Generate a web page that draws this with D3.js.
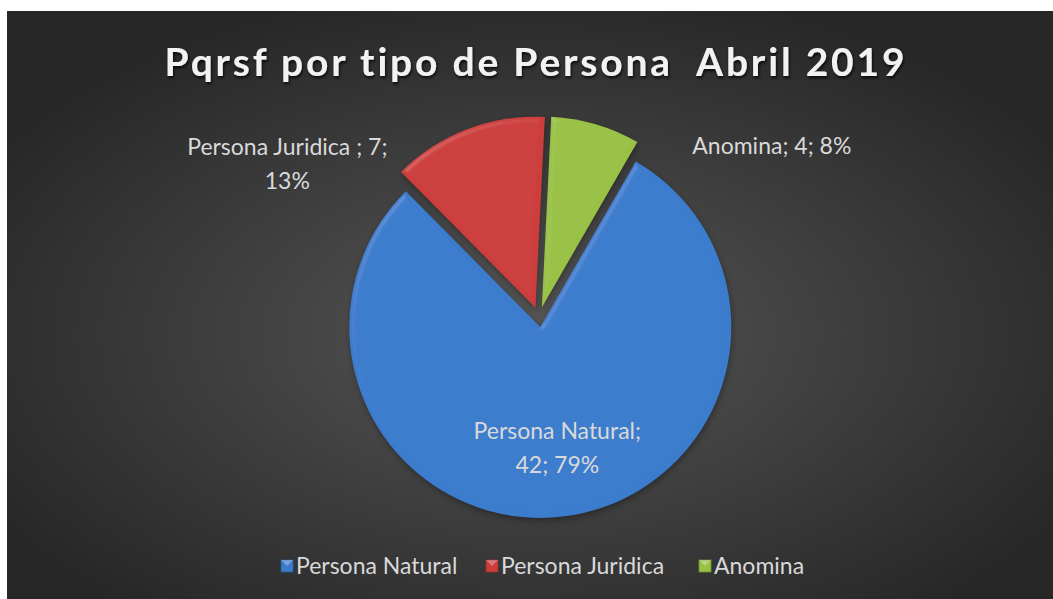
<!DOCTYPE html>
<html>
<head>
<meta charset="utf-8">
<script src="https://cdn.jsdelivr.net/npm/d3@7"></script>
<style>
  html, body { margin: 0; padding: 0; background: #fff; }
  svg { display: block; }
  text { white-space: pre; }
</style>
</head>
<body>
<div id="chart"></div>
<script>
// data
var categories = ["Persona Natural", "Persona Juridica", "Anomina"];
var labelNames = ["Persona Natural", "Persona Juridica ", "Anomina"];
var values = [42, 7, 4];
var percents = ["79%", "13%", "8%"];
var colors = ["#3a7bcc", "#cc3d3b", "#98c145"];
var titleText = "Pqrsf por tipo de Persona  Abril 2019";

var width = 1053, height = 599;

var svg = d3.select("#chart")
  .append("svg")
    .attr("width", width)
    .attr("height", height);

var defs = svg.append("defs");

// background radial gradient
var bg = defs.append("radialGradient")
    .attr("id", "bg")
    .attr("cx", "50%").attr("cy", "55%").attr("r", "60%");
bg.append("stop").attr("offset", "0%").attr("stop-color", "#565656");
bg.append("stop").attr("offset", "100%").attr("stop-color", "#272727");

// bevel filter for slices
var bevel = defs.append("filter").attr("id", "bevel")
    .attr("x", "-10%").attr("y", "-10%").attr("width", "120%").attr("height", "120%");
bevel.append("feGaussianBlur").attr("in", "SourceAlpha").attr("stdDeviation", 2.5).attr("result", "blur");
var spec = bevel.append("feSpecularLighting")
    .attr("in", "blur").attr("surfaceScale", 3).attr("specularConstant", 0.5)
    .attr("specularExponent", 25).attr("lighting-color", "#ffffff").attr("result", "spec");
spec.append("feDistantLight").attr("azimuth", 225).attr("elevation", 40);
bevel.append("feComposite").attr("in", "spec").attr("in2", "SourceAlpha")
    .attr("operator", "in").attr("result", "specIn");
bevel.append("feComposite").attr("in", "SourceGraphic").attr("in2", "specIn")
    .attr("operator", "arithmetic").attr("k1", 0).attr("k2", 1).attr("k3", 0.15).attr("k4", 0);

// title shadow
var tshadow = defs.append("filter").attr("id", "tshadow")
    .attr("x", "-5%").attr("y", "-30%").attr("width", "110%").attr("height", "160%");
tshadow.append("feDropShadow").attr("dx", 1).attr("dy", 2).attr("stdDeviation", 1.5)
    .attr("flood-color", "#000").attr("flood-opacity", 0.8);

svg.append("rect")
    .attr("x", 7).attr("y", 11)
    .attr("width", width - 7).attr("height", height - 11)
    .attr("fill", "url(#bg)");

// title
svg.append("text")
    .attr("x", 536).attr("y", 76)
    .attr("text-anchor", "middle")
    .attr("font-family", "Lato, 'Open Sans', sans-serif")
    .attr("font-weight", "bold")
    .attr("font-size", 39)
    .attr("letter-spacing", 2.8)
    .attr("fill", "#f2f2f2")
    .attr("filter", "url(#tshadow)")
    .text(titleText);

// pie
var cx = 539, cy = 317, radius = 191, explode = 10;
var startAngle = 30 * Math.PI / 180;

var pie = d3.pie()
    .sort(null)
    .startAngle(startAngle)
    .endAngle(startAngle + 2 * Math.PI);

var arcs = pie(values);
var arc = d3.arc().innerRadius(0).outerRadius(radius);

var g = svg.append("g").attr("transform", "translate(" + cx + "," + cy + ")");

var slices = g.selectAll("g.slice")
  .data(arcs)
  .enter()
  .append("g")
    .attr("class", "slice")
    .attr("transform", function(d) {
        var a = (d.startAngle + d.endAngle) / 2;
        return "translate(" + (Math.sin(a) * explode) + "," + (-Math.cos(a) * explode) + ")";
    });

slices.append("path")
    .attr("d", arc)
    .attr("fill", "#000")
    .attr("opacity", 0.3)
    .attr("transform", "translate(1,3)")
    .style("filter", "blur(3px)");

slices.append("path")
    .attr("d", arc)
    .attr("fill", function(d, i) { return colors[i]; })
    .attr("filter", "url(#bevel)");

// data labels
var labelFont = "Lato, 'Open Sans', sans-serif";
var labelSpots = [
    {angle: 172, r: 0.64},
    {angle: 300, r: 1.5},
    {angle: 55, r: 1.47}
];
arcs.forEach(function(d, i) {
    var a = labelSpots[i].angle * Math.PI / 180;
    var mid = (d.startAngle + d.endAngle) / 2;
    var ox = Math.sin(mid) * explode, oy = -Math.cos(mid) * explode;
    var lx = ox + Math.sin(a) * radius * labelSpots[i].r;
    var ly = oy - Math.cos(a) * radius * labelSpots[i].r;
    var lines;
    if (i === 2) lines = [labelNames[i] + "; " + values[i] + "; " + percents[i]];
    else if (i === 1) lines = [labelNames[i] + "; " + values[i] + ";", percents[i]];
    else lines = [labelNames[i] + ";", values[i] + "; " + percents[i]];
    var t = g.append("text")
        .attr("text-anchor", "middle")
        .attr("font-family", labelFont)
        .attr("font-size", 23)
        .attr("fill", "#d9d9d9");
    lines.forEach(function(s, k) {
        t.append("tspan")
            .attr("x", lx)
            .attr("y", ly + (k - (lines.length - 1) / 2) * 34 + 8)
            .text(s);
    });
});

// legend
var legendX = [281, 486, 699];
var legend = svg.append("g");
categories.forEach(function(c, i) {
    var lg = legend.append("g").attr("transform", "translate(" + legendX[i] + ",560)");
    lg.append("rect")
        .attr("width", 12).attr("height", 12)
        .attr("fill", colors[i])
        .attr("stroke", d3.color(colors[i]).darker(0.8))
        .attr("stroke-width", 0.8);
    lg.append("path")
        .attr("d", "M0,0 L12,0 L6,6 Z")
        .attr("fill", "#fff").attr("opacity", 0.3);
    lg.append("text")
        .attr("x", 15).attr("y", 14)
        .attr("font-family", labelFont)
        .attr("font-size", 23)
        .attr("fill", "#d9d9d9")
        .text(c);
});
</script>
</body>
</html>
